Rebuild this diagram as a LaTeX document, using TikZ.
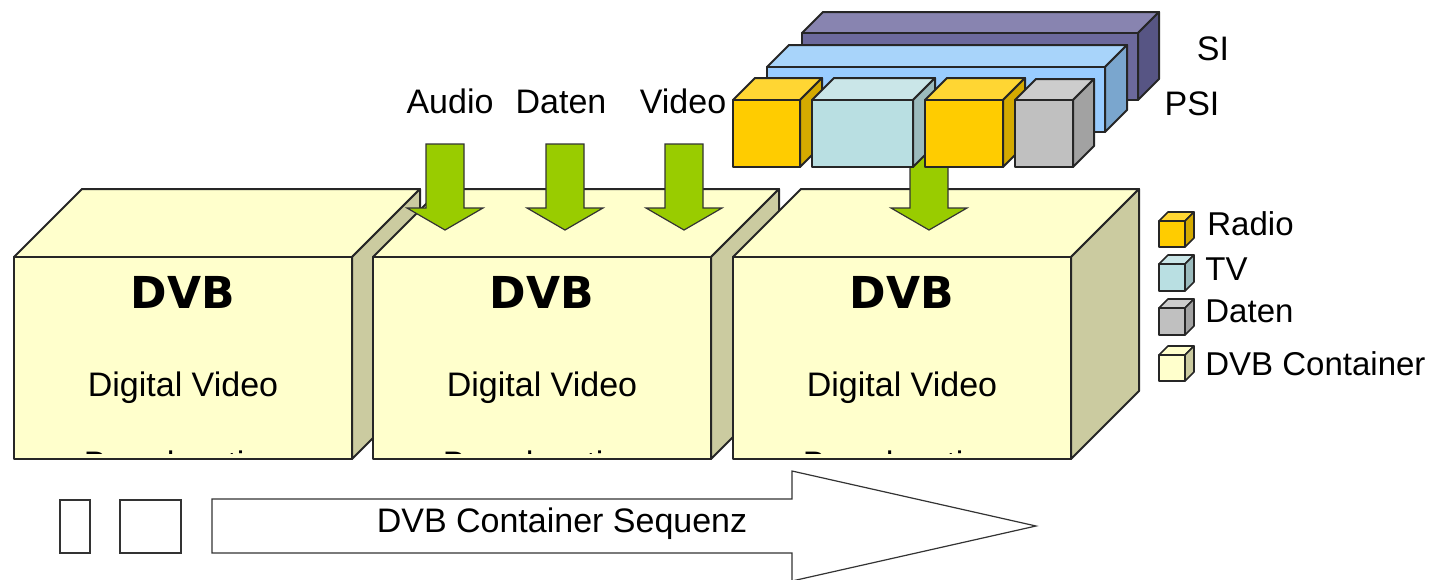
\documentclass[tikz,border=0pt]{standalone}
\usepackage{fontspec}
\setmainfont{Liberation Sans}
\newfontfamily\dvbfont{DejaVu Sans}
\definecolor{boxfront}{HTML}{FFFFCC}
\definecolor{boxside}{HTML}{CBCBA0}
\definecolor{arrgreen}{HTML}{99CC00}
\definecolor{sitop}{HTML}{8884B0}
\definecolor{sifront}{HTML}{6C699C}
\definecolor{siside}{HTML}{575584}
\definecolor{psitop}{HTML}{A8D4FA}
\definecolor{psifront}{HTML}{99CCFF}
\definecolor{psiside}{HTML}{7AA6CE}
\definecolor{radiofront}{HTML}{FFCC00}
\definecolor{radiotop}{HTML}{FFD633}
\definecolor{radioside}{HTML}{D4AA00}
\definecolor{tvfront}{HTML}{B9DFE2}
\definecolor{tvtop}{HTML}{CAE6E8}
\definecolor{tvside}{HTML}{9BBBBD}
\definecolor{greyfront}{HTML}{C0C0C0}
\definecolor{greytop}{HTML}{CDCDCD}
\definecolor{greyside}{HTML}{A2A2A2}
% #1 x, #2 y (front top-left), #3 width, #4 height, #5 depth, #6 front, #7 top, #8 side
\newcommand{\mycube}[8]{%
  \filldraw[fill=#7] (#1,#2) -- ++(#5,-#5) -- ++(#3,0) -- ++(-#5,#5) -- cycle;
  \filldraw[fill=#8] ({#1+#3},#2) -- ++(#5,-#5) -- ++(0,#4) -- ++(-#5,#5) -- cycle;
  \filldraw[fill=#6] (#1,#2) rectangle ++(#3,#4);
}
\newcommand{\greenarrow}[2]{%
  \filldraw[greenarr] ({#1-19},#2) -- ({#1+19},#2) -- ({#1+19},208) -- ({#1+38},208)
    -- (#1,230) -- ({#1-38},208) -- ({#1-19},208) -- cycle;
}
\tikzset{
  outline/.style={draw=black!85, line width=1pt, line join=round},
  thinline/.style={draw=black!80, line width=0.6pt, line join=miter},
  greenarr/.style={fill=arrgreen, draw=black!80, line width=0.6pt, line join=miter},
  lbl/.style={font=\fontsize{17}{20}\selectfont, inner sep=0pt, anchor=base},
  leglbl/.style={font=\fontsize{16.5}{20}\selectfont, inner sep=0pt, anchor=base west},
  dvb/.style={font=\dvbfont\bfseries\fontsize{22}{26}\selectfont, inner sep=0pt, anchor=base},
}
\begin{document}
\begin{tikzpicture}[x=0.5pt,y=-0.5pt]
\useasboundingbox (0,0) rectangle (1447,579);
% DVB container boxes
\begin{scope}[outline]
  \mycube{14}{257}{338}{202}{68}{boxfront}{boxfront}{boxside}
\end{scope}
\node[dvb] (dvb1) at (183,308) {DVB};
\node[lbl] (dv1) at (183,396) {Digital Video};
\begin{scope}
  \clip (15,258) rectangle (351,453.5);
  \node[lbl] (bc1) at (183,475.5) {Broadcasting};
\end{scope}
\begin{scope}[outline]
  \mycube{373}{257}{338}{202}{68}{boxfront}{boxfront}{boxside}
\end{scope}
\node[dvb] (dvb2) at (542,308) {DVB};
\node[lbl] (dv2) at (542,396) {Digital Video};
\begin{scope}
  \clip (374,258) rectangle (710,453.5);
  \node[lbl] (bc2) at (542,475.5) {Broadcasting};
\end{scope}
\begin{scope}[outline]
  \mycube{733}{257}{338}{202}{68}{boxfront}{boxfront}{boxside}
\end{scope}
\node[dvb] (dvb3) at (902,308) {DVB};
\node[lbl] (dv3) at (902,396) {Digital Video};
\begin{scope}
  \clip (734,258) rectangle (1070,453.5);
  \node[lbl] (bc3) at (902,475.5) {Broadcasting};
\end{scope}
% green arrows
\greenarrow{445}{144}
\greenarrow{565}{144}
\greenarrow{684}{144}
\greenarrow{929}{140}
\node[lbl] (audio) at (450,113) {Audio};
\node[lbl] (daten) at (561,113) {Daten};
\node[lbl] (video) at (683,113) {Video};
% SI / PSI bars and service cubes
\begin{scope}[outline]
  \mycube{802}{33}{336}{67}{21}{sifront}{sitop}{siside}
  \mycube{767}{67}{338}{65}{22}{psifront}{psitop}{psiside}
  \mycube{733}{100}{67}{67}{22}{radiofront}{radiotop}{radioside}
  \mycube{812}{100}{101}{67}{22}{tvfront}{tvtop}{tvside}
  \mycube{925}{100}{78}{67}{22}{radiofront}{radiotop}{radioside}
  \mycube{1015}{100}{58}{67}{21}{greyfront}{greytop}{greyside}
\end{scope}
\node[lbl] (si) at (1213,60) {SI};
\node[lbl] (psi) at (1192,115) {PSI};
% legend
\begin{scope}[outline, line width=0.8pt]
  \mycube{1159}{221}{26}{26}{9}{radiofront}{radiotop}{radioside}
  \mycube{1159}{264}{26}{27}{9}{tvfront}{tvtop}{tvside}
  \mycube{1159}{308}{26}{27}{9}{greyfront}{greytop}{greyside}
  \mycube{1159}{355}{26}{26}{9}{boxfront}{boxfront}{boxside}
\end{scope}
\node[leglbl] (lradio) at (1207,235) {Radio};
\node[leglbl] (ltv) at (1205,280) {TV};
\node[leglbl] (ldaten) at (1205,322) {Daten};
\node[leglbl] (ldvb) at (1205,375) {DVB Container};
% sequence arrow
\draw[thinline, fill=white] (60,500) rectangle (90,553);
\draw[thinline, fill=white] (120,500) rectangle (181,553);
\draw[thinline, fill=white] (212,499) -- (792,499) -- (792,471) -- (1036,526)
  -- (792,581) -- (792,553) -- (212,553) -- cycle;
\node[lbl] (seq) at (562,532) {DVB Container Sequenz};
\end{tikzpicture}
\end{document}
